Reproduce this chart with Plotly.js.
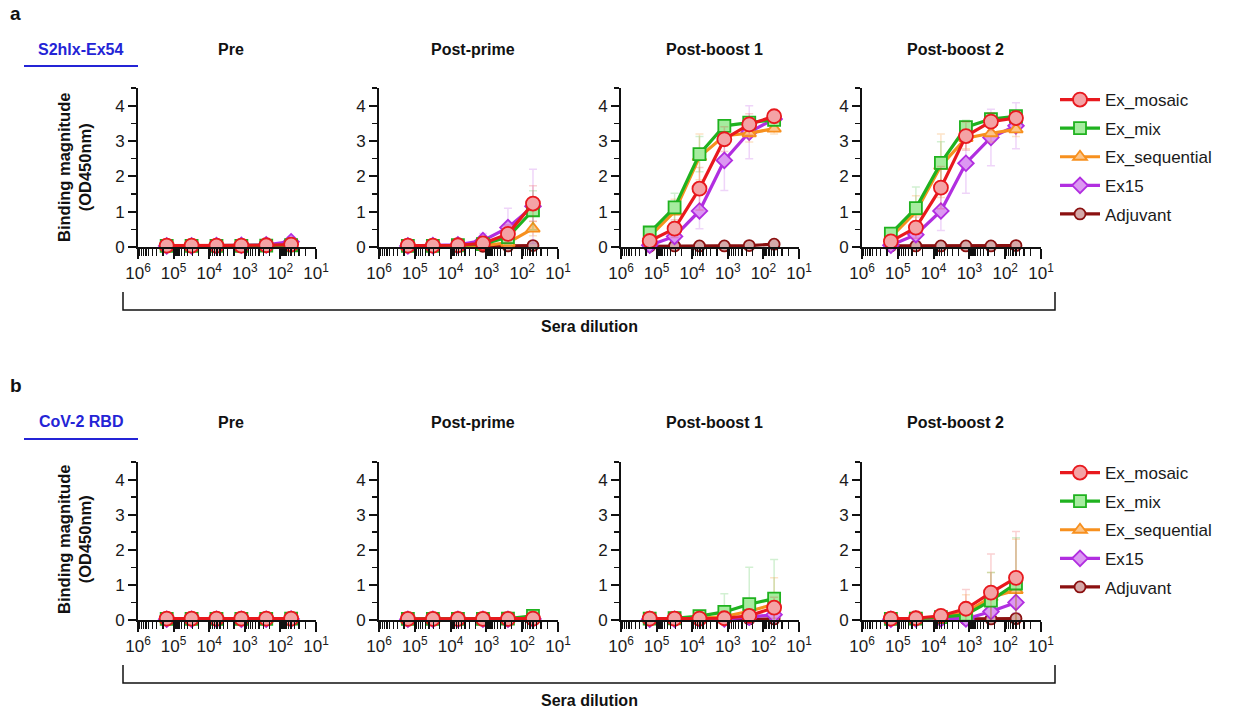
<!DOCTYPE html>
<html><head><meta charset="utf-8">
<script src="https://cdn.plot.ly/plotly-3.0.1.min.js"></script>
<style>html,body{margin:0;padding:0;background:#fff}#chart{width:1234px;height:713px}</style>
</head><body><div id="chart"></div>
<script>
// ---------------- DATA ----------------
const dilutions = [156250, 31250, 6250, 1250, 250, 50];
const panelTitles = ["Pre", "Post-prime", "Post-boost 1", "Post-boost 2"];
const rowLabels = ["S2hlx-Ex54", "CoV-2 RBD"];
const panelLetters = ["a", "b"];
const seriesNames = ["Ex_mosaic", "Ex_mix", "Ex_sequential", "Ex15", "Adjuvant"];
const xTickVals = [1e6, 1e5, 1e4, 1e3, 1e2, 1e1];
const xTickText = ["10<sup>6</sup>", "10<sup>5</sup>", "10<sup>4</sup>", "10<sup>3</sup>", "10<sup>2</sup>", "10<sup>1</sup>"];
const yTickVals = [0, 1, 2, 3, 4];

// Row a: S2hlx-Ex54 — each array: [Pre, Post-prime, Post-boost 1, Post-boost 2]
const s2_Ex_mosaic = [[0.04,0.04,0.04,0.04,0.05,0.07],[0.04,0.04,0.05,0.10,0.37,1.23],[0.17,0.52,1.65,3.05,3.47,3.70],[0.16,0.55,1.68,3.14,3.55,3.65]];
const s2_Ex_mix = [[0.03,0.03,0.03,0.03,0.04,0.05],[0.03,0.03,0.05,0.08,0.28,1.04],[0.41,1.12,2.63,3.43,3.52,3.60],[0.38,1.10,2.38,3.39,3.62,3.70]];
const s2_Ex_sequential = [[0.02,0.02,0.02,0.02,0.03,0.04],[0.02,0.02,0.03,0.04,0.12,0.52],[0.30,1.00,2.55,3.15,3.22,3.35],[0.28,1.00,2.30,3.08,3.22,3.33]];
const s2_Ex15 = [[0.03,0.03,0.04,0.05,0.06,0.15],[0.03,0.04,0.06,0.18,0.55,1.15],[0.05,0.30,1.02,2.45,3.25,3.62],[0.05,0.35,1.02,2.37,3.10,3.43]];
const s2_Adjuvant = [[0.02,0.02,0.02,0.02,0.02,0.03],[0.02,0.02,0.02,0.02,0.03,0.04],[0.02,0.03,0.03,0.03,0.04,0.08],[0.03,0.03,0.03,0.03,0.03,0.04]];

const s2_Ex_mosaic_err = [[0.01,0.01,0.01,0.01,0.02,0.03],[0.01,0.01,0.02,0.08,0.25,0.50],[0.08,0.25,0.60,0.35,0.30,0.15],[0.08,0.30,0.60,0.40,0.25,0.20]];
const s2_Ex_mix_err = [[0.01,0.01,0.01,0.01,0.01,0.02],[0.01,0.01,0.02,0.05,0.20,0.55],[0.15,0.40,0.50,0.15,0.10,0.10],[0.15,0.60,0.60,0.20,0.15,0.15]];
const s2_Ex_sequential_err = [[0.01,0.01,0.01,0.01,0.01,0.02],[0.01,0.01,0.01,0.03,0.08,0.20],[0.10,0.35,0.65,0.30,0.25,0.15],[0.10,0.45,0.90,0.30,0.25,0.20]];
const s2_Ex15_err = [[0.01,0.01,0.01,0.02,0.03,0.08],[0.01,0.02,0.04,0.20,0.55,1.05],[0.03,0.20,0.50,0.85,0.75,0.20],[0.03,0.20,0.55,0.85,0.80,0.65]];
const s2_Adjuvant_err = [[0.01,0.01,0.01,0.01,0.01,0.01],[0.01,0.01,0.01,0.01,0.01,0.02],[0.01,0.01,0.01,0.01,0.02,0.03],[0.01,0.01,0.01,0.01,0.01,0.02]];

// Row b: CoV-2 RBD
const rbd_Ex_mosaic = [[0.04,0.04,0.04,0.04,0.04,0.04],[0.03,0.03,0.03,0.03,0.03,0.04],[0.04,0.04,0.04,0.05,0.12,0.35],[0.04,0.05,0.12,0.32,0.78,1.20]];
const rbd_Ex_mix = [[0.03,0.03,0.03,0.03,0.03,0.04],[0.03,0.03,0.03,0.03,0.04,0.12],[0.04,0.05,0.11,0.23,0.45,0.61],[0.03,0.04,0.08,0.15,0.55,1.04]];
const rbd_Ex_sequential = [[0.02,0.02,0.02,0.02,0.03,0.03],[0.02,0.02,0.02,0.02,0.03,0.05],[0.03,0.03,0.05,0.10,0.25,0.45],[0.03,0.04,0.08,0.22,0.65,0.85]];
const rbd_Ex15 = [[0.02,0.02,0.02,0.02,0.02,0.03],[0.02,0.02,0.02,0.02,0.02,0.03],[0.02,0.02,0.03,0.03,0.08,0.15],[0.02,0.03,0.04,0.03,0.24,0.50]];
const rbd_Adjuvant = [[0.02,0.02,0.02,0.02,0.02,0.02],[0.02,0.02,0.02,0.02,0.02,0.02],[0.02,0.02,0.02,0.02,0.03,0.03],[0.02,0.02,0.02,0.02,0.03,0.04]];

const rbd_Ex_mosaic_err = [[0.01,0.01,0.01,0.01,0.01,0.01],[0.01,0.01,0.01,0.01,0.01,0.02],[0.01,0.01,0.02,0.05,0.10,0.30],[0.01,0.02,0.05,0.55,1.10,1.32]];
const rbd_Ex_mix_err = [[0.01,0.01,0.01,0.01,0.01,0.01],[0.01,0.01,0.01,0.01,0.02,0.05],[0.01,0.02,0.05,0.52,1.05,1.11],[0.01,0.02,0.05,0.30,0.80,1.30]];
const rbd_Ex_sequential_err = [[0.01,0.01,0.01,0.01,0.01,0.01],[0.01,0.01,0.01,0.01,0.01,0.02],[0.01,0.01,0.03,0.10,0.30,0.75],[0.01,0.02,0.05,0.50,0.70,1.45]];
const rbd_Ex15_err = [[0.01,0.01,0.01,0.01,0.01,0.01],[0.01,0.01,0.01,0.01,0.01,0.01],[0.01,0.01,0.01,0.02,0.05,0.10],[0.01,0.01,0.02,0.03,0.15,0.30]];
const rbd_Adjuvant_err = [[0.01,0.01,0.01,0.01,0.01,0.01],[0.01,0.01,0.01,0.01,0.01,0.01],[0.01,0.01,0.01,0.01,0.01,0.02],[0.01,0.01,0.01,0.01,0.02,0.02]];

// ---------------- STYLE ----------------
const W = 1234, H = 713;
const FONT = "Liberation Sans, Arial, sans-serif";
const styles = {
  Ex_mosaic:     {line:'#e8191e', fill:'#f4a3a5', err:'rgba(232,25,30,0.2)',  symbol:'circle',  size:14},
  Ex_mix:        {line:'#1fb21f', fill:'#a6ec9f', err:'rgba(31,178,31,0.2)',  symbol:'square',  size:12},
  Ex_sequential: {line:'#f7901e', fill:'#fbc58a', err:'rgba(247,144,30,0.25)', symbol:'triangle-up', size:12},
  Ex15:          {line:'#b12ee0', fill:'#dc98f2', err:'rgba(177,46,224,0.2)', symbol:'diamond', size:12},
  Adjuvant:      {line:'#8b1010', fill:'#d5a9a9', err:'rgba(139,16,16,0.2)',  symbol:'circle',  size:11}
};
const rowData = [
  {Ex_mosaic:[s2_Ex_mosaic,s2_Ex_mosaic_err], Ex_mix:[s2_Ex_mix,s2_Ex_mix_err], Ex_sequential:[s2_Ex_sequential,s2_Ex_sequential_err], Ex15:[s2_Ex15,s2_Ex15_err], Adjuvant:[s2_Adjuvant,s2_Adjuvant_err]},
  {Ex_mosaic:[rbd_Ex_mosaic,rbd_Ex_mosaic_err], Ex_mix:[rbd_Ex_mix,rbd_Ex_mix_err], Ex_sequential:[rbd_Ex_sequential,rbd_Ex_sequential_err], Ex15:[rbd_Ex15,rbd_Ex15_err], Adjuvant:[rbd_Adjuvant,rbd_Adjuvant_err]}
];

// pixel layout
const panelX = [[138,316],[379,558],[621,799],[862,1041]];
const rowY = [[88,247],[462,620]]; // top (y=4.5), bottom (y=0)
const titleY = [49, 422];
const px = v => v / W;
const py = v => 1 - v / H;

const minorVals = [];
for (let e = 1; e < 6; e++) for (let m = 2; m <= 9; m++) minorVals.push(m * Math.pow(10, e));

const traces = [];
const layout = {
  width: W, height: H,
  margin: {l:0, r:0, t:0, b:0},
  paper_bgcolor: '#fff', plot_bgcolor: 'rgba(0,0,0,0)',
  font: {family: FONT, size: 16, color: '#1a1a1a'},
  showlegend: true,
  annotations: [], shapes: []
};

const drawOrder = ["Adjuvant", "Ex15", "Ex_sequential", "Ex_mix", "Ex_mosaic"];
for (let r = 0; r < 2; r++) {
  for (let p = 0; p < 4; p++) {
    const idx = r * 4 + p + 1;
    const xa = idx === 1 ? 'xaxis' : 'xaxis' + idx;
    const ya = idx === 1 ? 'yaxis' : 'yaxis' + idx;
    const xref = idx === 1 ? 'x' : 'x' + idx;
    const yref = idx === 1 ? 'y' : 'y' + idx;
    layout[xa] = {
      type: 'log', range: [6, 1], domain: [px(panelX[p][0]), px(panelX[p][1])],
      anchor: yref, showgrid: false, zeroline: false,
      showline: true, linecolor: '#111', linewidth: 2,
      tickmode: 'array', tickvals: xTickVals, ticktext: xTickText,
      ticks: 'outside', ticklen: 10, tickwidth: 2, tickcolor: '#111',
      tickfont: {family: FONT, size: 17, color: '#1a1a1a'},
      minor: {tickmode: 'array', tickvals: minorVals, ticks: 'outside', ticklen: 7, tickwidth: 1.3, tickcolor: '#111', showgrid: false},
      fixedrange: true
    };
    layout[ya] = {
      range: [0, 4.5], domain: [py(rowY[r][1]), py(rowY[r][0])],
      anchor: xref, showgrid: false, zeroline: false,
      showline: true, linecolor: '#111', linewidth: 2,
      tickmode: 'array', tickvals: yTickVals,
      ticks: 'outside', ticklen: 8, tickwidth: 2, tickcolor: '#111',
      tickfont: {family: FONT, size: 17, color: '#1a1a1a'},
      minor: {tickmode: 'linear', dtick: 0.5, ticks: 'outside', ticklen: 5, tickwidth: 1.5, tickcolor: '#111', showgrid: false},
      fixedrange: true
    };
    // panel title
    layout.annotations.push({
      text: '<b>' + panelTitles[p] + '</b>', xref: 'paper', yref: 'paper',
      x: px((panelX[p][0] + panelX[p][1]) / 2 + 4), y: py(titleY[r]),
      xanchor: 'center', yanchor: 'middle', showarrow: false,
      font: {family: FONT, size: 16, color: '#111'}
    });
    for (const name of drawOrder) {
      const st = styles[name];
      const vals = rowData[r][name][0][p];
      const errs = rowData[r][name][1][p];
      traces.push({
        type: 'scatter', mode: 'lines+markers', name: name,
        x: dilutions, y: vals, xaxis: xref, yaxis: yref,
        line: {color: st.line, width: 3.2},
        marker: {symbol: st.symbol, size: st.size, color: st.fill, line: {color: st.line, width: 1.8}},
        error_y: {type: 'data', array: errs, visible: true, color: st.err, thickness: 1.5, width: 4},
        cliponaxis: false,
        showlegend: p === 3,
        legend: r === 0 ? 'legend' : 'legend2',
        legendgroup: name + r,
        legendrank: seriesNames.indexOf(name) + 1,
        hoverinfo: 'skip'
      });
    }
  }
  // row letter, row label, underline, y-title, bracket
  layout.annotations.push({text: '<b>' + panelLetters[r] + '</b>', xref:'paper', yref:'paper', x: px(8), y: py(r === 0 ? 14 : 385), xanchor:'left', yanchor:'middle', showarrow:false, font:{family:FONT, size:19, color:'#111'}});
  layout.annotations.push({text: '<b>' + rowLabels[r] + '</b>', xref:'paper', yref:'paper', x: px(81), y: py(r === 0 ? 49 : 421), xanchor:'center', yanchor:'middle', showarrow:false, font:{family:FONT, size:16, color:'#2424d6'}});
  layout.shapes.push({type:'line', xref:'paper', yref:'paper', x0: px(24), x1: px(138), y0: py(r === 0 ? 66 : 439), y1: py(r === 0 ? 66 : 439), line:{color:'#2424d6', width:2}});
  layout.annotations.push({text: '<b>Binding magnitude<br>(OD450nm)</b>', xref:'paper', yref:'paper', x: px(74), y: py(r === 0 ? 168 : 540), xanchor:'center', yanchor:'middle', textangle: -90, showarrow:false, font:{family:FONT, size:16.5, color:'#111'}});
  const by = r === 0 ? 310 : 683;
  layout.shapes.push({type:'path', xref:'paper', yref:'paper', path: `M ${px(123)} ${py(by-18)} L ${px(123)} ${py(by)} L ${px(1055)} ${py(by)} L ${px(1055)} ${py(by-18)}`, line:{color:'#111', width:1.5}});
  layout.annotations.push({text: '<b>Sera dilution</b>', xref:'paper', yref:'paper', x: px(589), y: py(by + 17), xanchor:'center', yanchor:'middle', showarrow:false, font:{family:FONT, size:16, color:'#111'}});
}

const legendBase = {xref:'paper', yref:'paper', xanchor:'left', yanchor:'top', bgcolor:'rgba(0,0,0,0)', borderwidth:0,
  font:{family:FONT, size:17, color:'#1a1a1a'}, traceorder:'grouped', tracegroupgap: 3.5, itemwidth: 40, itemclick:false, itemdoubleclick:false};
layout.legend = Object.assign({}, legendBase, {x: px(1055), y: py(82)});
layout.legend2 = Object.assign({}, legendBase, {x: px(1055), y: py(455)});

Plotly.newPlot('chart', traces, layout, {displayModeBar: false, staticPlot: true});
</script></body></html>
